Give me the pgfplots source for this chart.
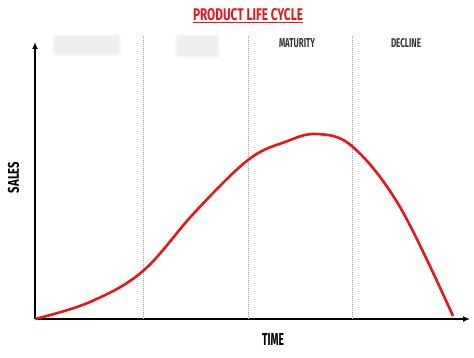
\documentclass[border=0pt]{standalone}
\usepackage{pgfplots}
\pgfplotsset{compat=1.18}
\usepackage{fontspec}
\setmainfont{Fira Sans}
\usetikzlibrary{arrows.meta}
\definecolor{cvred}{HTML}{E8151B}
\begin{document}
\begin{tikzpicture}[x=1bp,y=1bp]
\path[use as bounding box] (0,0) rectangle (474,357);
\begin{axis}[
  at={(35bp,38bp)}, anchor=origin,
  scale only axis, width=435bp, height=277bp,
  xmin=0, xmax=435, ymin=0, ymax=277,
  axis lines=left,
  axis line style={line width=1.6bp, -{Latex[length=7bp,width=6bp]}},
  ticks=none, clip=false,
]
\addplot[gray!75, line width=0.7bp, dash pattern=on 1bp off 1bp] coordinates {(108,0) (108,284)};
\addplot[gray!75, line width=0.7bp, dash pattern=on 1bp off 1bp] coordinates {(213,0) (213,284)};
\addplot[gray!75, line width=0.7bp, dash pattern=on 1bp off 1bp] coordinates {(317,0) (317,284)};
\addplot[cvred, line width=2.6bp, smooth, tension=0.6] coordinates {
(0,0) (55,17) (108,48) (160,107) (213,159) (250,177) (282,185) (318,172) (365,112) (418,3)};
\end{axis}
% blurred boxes
\foreach \o/\c in {3/4,2/7,1/10,0/13}{
  \fill[gray!\c, rounded corners=2bp] (55-\o,320+\o) rectangle (118+\o,304-\o);
  \fill[gray!\c, rounded corners=2bp] (178-\o,320+\o) rectangle (217+\o,302-\o);
}
% title
\node[cvred, inner sep=0, anchor=center] at (248,342) {\resizebox{110bp}{12bp}{\bfseries PRODUCT LIFE CYCLE}};
\draw[cvred, line width=1.2bp] (193,334.5) -- (303,334.5);
\node[inner sep=0, text=black!80] at (297,313.5) {\resizebox{36bp}{9bp}{\bfseries MATURITY}};
\node[inner sep=0, text=black!80] at (406,313.5) {\resizebox{30bp}{9bp}{\bfseries DECLINE}};
\node[inner sep=0, rotate=90] at (13.5,179.5) {\resizebox{31bp}{11bp}{\bfseries SALES}};
\node[inner sep=0] at (273,18) {\resizebox{22bp}{12bp}{\bfseries TIME}};
\end{tikzpicture}
\end{document}
